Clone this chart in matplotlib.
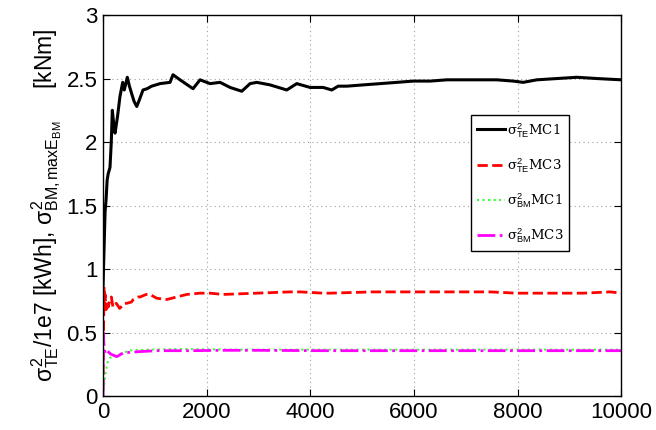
import numpy as np
import matplotlib
matplotlib.use("Agg")
import matplotlib.pyplot as plt

plt.rcParams['font.family'] = ['Liberation Sans', 'DejaVu Sans']
plt.rcParams['mathtext.fontset'] = 'custom'
plt.rcParams['mathtext.rm'] = 'Liberation Sans'
plt.rcParams['mathtext.it'] = 'Liberation Sans'
plt.rcParams['mathtext.bf'] = 'Liberation Sans:bold'

# variance estimates vs. number of MC samples
x_te1 = [0, 20, 40, 60, 80, 100, 135, 160, 180, 205, 232, 280, 328, 380, 411, 469, 510,
         554, 600, 651, 700, 772, 850, 940, 1100, 1293, 1351, 1486, 1737, 1873, 2066, 2259,
         2452, 2678, 2838, 2967, 3224, 3546, 3739, 3996, 4247, 4415, 4537, 4705, 5019, 5347,
         5670, 5985, 6313, 6635, 6950, 7278, 7600, 7915, 8108, 8372, 8758, 9145, 9531, 10000]
te1 = [0.85, 1.15, 1.45, 1.55, 1.7, 1.75, 1.8, 2.0, 2.25, 2.15, 2.07, 2.2, 2.36, 2.47, 2.41,
       2.51, 2.44, 2.38, 2.32, 2.28, 2.33, 2.41, 2.42, 2.44, 2.46, 2.47, 2.53, 2.49, 2.42,
       2.49, 2.46, 2.47, 2.43, 2.40, 2.46, 2.47, 2.45, 2.41, 2.46, 2.43, 2.43, 2.41, 2.44,
       2.44, 2.45, 2.46, 2.47, 2.48, 2.48, 2.49, 2.49, 2.49, 2.49, 2.48, 2.47, 2.49, 2.50,
       2.51, 2.50, 2.49]

x_te3 = [0, 10, 20, 30, 40, 60, 80, 100, 135, 161, 193, 257, 322, 418, 458, 547, 585, 676,
         714, 836, 907, 1037, 1230, 1423, 1616, 1873, 2066, 2317, 2967, 3610, 3803, 4247,
         4382, 5200, 6056, 7471, 7986, 8629, 9266, 9788, 10000]
te3 = [0.05, 0.5, 0.86, 0.7, 0.8, 0.68, 0.75, 0.7, 0.76, 0.78, 0.70, 0.73, 0.69, 0.73, 0.73,
       0.74, 0.76, 0.78, 0.78, 0.80, 0.80, 0.77, 0.76, 0.78, 0.80, 0.81, 0.81, 0.80, 0.81,
       0.82, 0.82, 0.81, 0.81, 0.82, 0.82, 0.82, 0.81, 0.81, 0.81, 0.82, 0.81]

x_bm1 = [0, 15, 33, 39, 71, 97, 135, 199, 386, 521, 900, 1500, 2500, 4000, 6000, 8000, 10000]
bm1 = [0.0, 0.05, 0.13, 0.15, 0.23, 0.28, 0.30, 0.31, 0.34, 0.36, 0.365, 0.37, 0.365, 0.365,
       0.365, 0.365, 0.365]

x_bm3 = [0, 5, 15, 40, 71, 150, 264, 393, 714, 1037, 1680, 2317, 2967, 4247, 6000, 8000, 10000]
bm3 = [0.0, 0.5, 0.42, 0.34, 0.36, 0.33, 0.31, 0.34, 0.35, 0.357, 0.357, 0.36, 0.36, 0.357,
       0.357, 0.357, 0.357]

fig = plt.figure(figsize=(6.56, 4.30), dpi=100)
ax = fig.add_axes([0.157, 0.079, 0.790, 0.886])

ax.plot(x_te1, te1, color='k', lw=2.2, ls='-', label=r'σ$^2_{\rm TE}$MC1')
ax.plot(x_te3, te3, color='r', lw=2, ls='--', label=r'σ$^2_{\rm TE}$MC3')
ax.plot(x_bm1, bm1, color='#33ff33', lw=1.5, ls=':', label=r'σ$^2_{\rm BM}$MC1')
ax.plot(x_bm3, bm3, color='magenta', lw=2, ls='-.', label=r'σ$^2_{\rm BM}$MC3')

ax.set_xlim(0, 10000)
ax.set_ylim(0, 3)
ax.set_xticks(np.arange(0, 10001, 2000))
ax.set_yticks(np.arange(0, 3.01, 0.5))
ax.set_yticklabels(['0', '0.5', '1', '1.5', '2', '2.5', '3'])
ax.tick_params(direction='in', top=True, right=True, labelsize=16, length=5, pad=4)
ax.grid(True, ls=(0, (1, 3)), color='#a0a0a0', lw=0.8)
for s in ax.spines.values():
    s.set_linewidth(1)

ax.set_ylabel(r'$\sigma^2_{\rm TE}$/1e7 [kWh], $\sigma^2_{\rm BM,maxE_{BM}}$     [kNm]',
              fontsize=16.5, labelpad=2)

leg = ax.legend(loc='upper left', bbox_to_anchor=(0.71, 0.738), borderaxespad=0,
                prop={'family': 'DejaVu Serif', 'size': 9.5}, fancybox=False,
                edgecolor='k', framealpha=1, handlelength=2.1, labelspacing=1.25,
                borderpad=0.45, handletextpad=0.15)
leg.get_frame().set_linewidth(1)

fig.savefig('out.png', dpi=100)
